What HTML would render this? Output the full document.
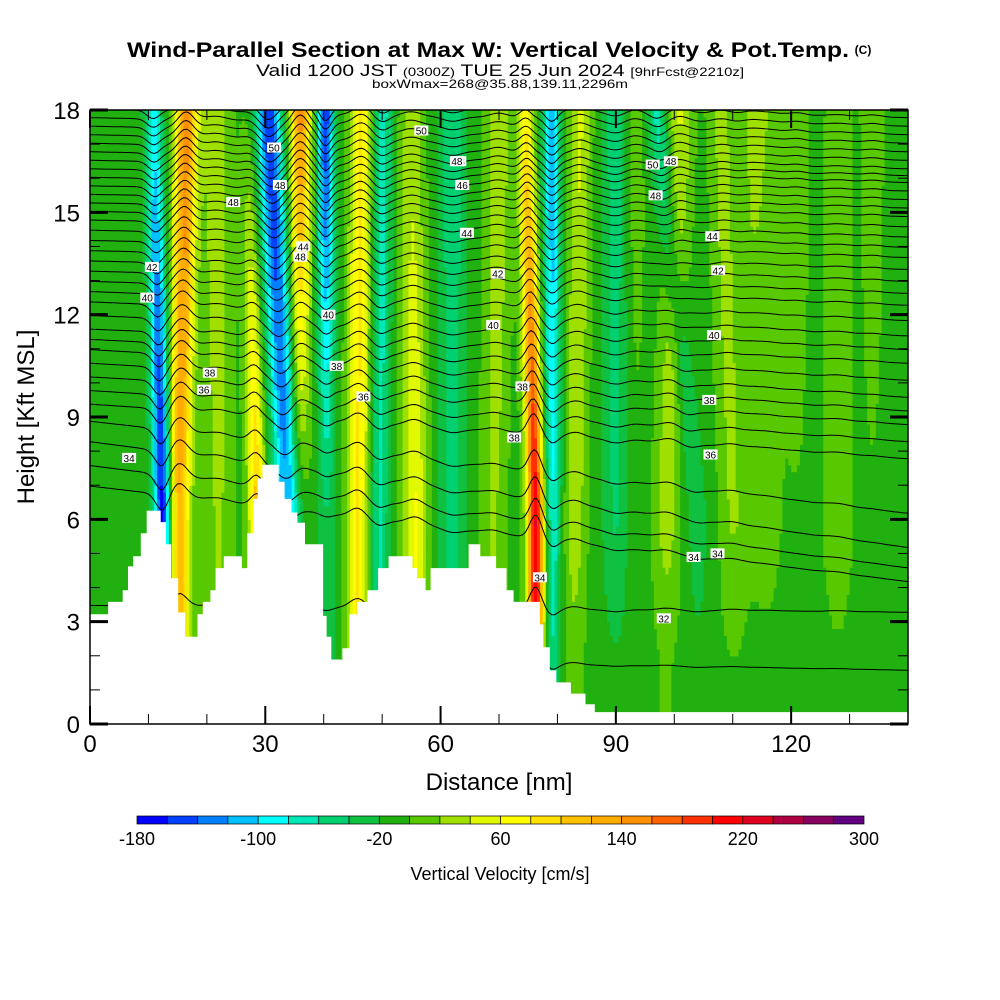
<!DOCTYPE html>
<html><head><meta charset="utf-8"><style>
html,body{margin:0;padding:0;background:#fff;}
svg{display:block;font-family:"Liberation Sans",sans-serif;}
</style></head><body>
<svg id="chart" width="1000" height="1000" viewBox="0 0 1000 1000">
<rect width="1000" height="1000" fill="#fff"/>
<text x="488" y="57" text-anchor="middle" font-size="21" font-weight="bold" textLength="722" lengthAdjust="spacingAndGlyphs">Wind-Parallel Section at Max W: Vertical Velocity &amp; Pot.Temp.</text>
<text x="863" y="54" text-anchor="middle" font-size="12" font-weight="bold">(C)</text>
<text x="500" y="76" text-anchor="middle" font-size="17" textLength="488" lengthAdjust="spacingAndGlyphs">Valid 1200 JST <tspan font-size="12">(0300Z)</tspan> TUE 25 Jun 2024 <tspan font-size="12">[9hrFcst@2210z]</tspan></text>
<text x="500" y="88" text-anchor="middle" font-size="12" textLength="256" lengthAdjust="spacingAndGlyphs">boxWmax=268@35.88,139.11,2296m</text>
<defs><clipPath id="plotclip"><rect x="90" y="110" width="818" height="614"/></clipPath></defs>
<g id="field" clip-path="url(#plotclip)"></g>
<g id="contours" clip-path="url(#plotclip)"></g>
<g id="terrain" clip-path="url(#plotclip)"></g>
<g id="clabels"></g>
<g id="axes"></g>
<text x="499" y="790" text-anchor="middle" font-size="24">Distance [nm]</text>
<text transform="translate(34,417) rotate(-90)" text-anchor="middle" font-size="24">Height [Kft MSL]</text>
<g id="cbar"></g>
<text x="500" y="880" text-anchor="middle" font-size="18">Vertical Velocity [cm/s]</text>
</svg>
<script>
// ---- data ----
const binColors=["#0000ff","#0040ff","#0080ff","#00c0ff","#00ffff","#00e8b8","#00d070","#10c040","#20b010","#58c800","#a0e000","#e0f800","#ffff00","#ffe000","#ffc000","#ffac00","#ff9000","#ff6000","#ff3000","#ff0000","#e00020","#b00040","#880060","#600080"];
const binMin=-180, binStep=20;
const cbarLabels=[-180,-100,-20,60,140,220,300];
// bands: position (nm) at 6 kft and 18 kft, value (cm/s) at 6 and 18 kft, half-width (nm)
const bandX6=[12.5,15.2,22,28.6,34,36,40.5,45.8,49.5,55.7,62,69,76.3,79.2,83,90,98.7,104,110,116,128,93,113,121,134];
const bandX18=[10.8,16.5,21.5,27,30.5,36,40.3,46.5,50,55,62,70,74.5,79,84,90,101,97,108,116,128,93,113,121,134];
const bandV6=[-170,130,30,120,-110,10,-30,90,-55,70,-40,30,230,-70,40,-35,40,-25,30,15,20,5,5,5,5];
const bandV18=[-80,160,40,10,-150,160,-150,90,-65,40,-45,45,80,-110,50,-45,50,-60,35,25,15,25,25,25,20];
const bandW=[1.5,1.9,2.6,1.4,2.1,1.7,1.4,1.9,1.7,2.1,2.3,2.2,1.4,1.4,1.9,2.3,2.2,1.8,2.2,2.8,2.8,2,2,2,2];
const baseW=-8;
// terrain step profile
const terrX=[0,3.1,5.6,6.5,7.4,8.7,9.7,12.1,13,13.9,15.1,16.3,18.4,19.3,20.6,21.5,22.9,26,26.9,28,28.7,29.5,32.3,33.3,34.5,35.5,36.8,39.9,40.5,41.3,43.2,44.4,45.7,47.5,49.3,51.1,55.2,56,57.4,58.3,64.8,66.8,69.5,71.3,72.5,75.8,77,77.6,78.7,79.8,82.3,84.8,86.4];
const terrH=[3.22,3.58,3.92,4.62,4.92,5.59,6.25,5.92,5.27,4.27,3.27,2.56,3.22,3.58,3.92,4.57,4.92,4.57,5.59,6.6,7.2,7.6,7.1,6.6,6.2,5.9,5.27,3.17,2.56,1.89,2.22,3.22,3.58,3.92,4.57,4.92,4.57,4.27,3.92,4.57,5.27,4.92,4.57,3.92,3.58,3.58,2.92,2.25,1.57,1.22,0.89,0.58,0.35];
// isentropes
const thetaLevels=[32,33,34,34.5,35,35.5,36,36.5,37,37.5,38,38.5,39,39.5,40,40.5,41,41.5,42,42.5,43,43.5,44,44.5,45,45.5,46,46.5,47,47.5,48,48.5,49,49.5,50,50.5,51];
const thetaHL=[2,3.5,7.0,7.6,8.3,8.9,9.4,9.8,10.2,10.6,11.0,11.3,11.6,12.0,12.4,12.7,13.0,13.3,13.6,13.9,14.2,14.5,14.8,15.05,15.3,15.55,15.8,16.05,16.3,16.55,16.8,17.05,17.3,17.55,17.8,18.05,18.3];
const thetaHR=[1.6,3.3,4.2,4.6,5.2,6.2,7.8,8.3,8.8,9.2,9.6,10.1,10.6,11.0,11.4,11.85,12.3,12.65,13.0,13.35,13.7,14.0,14.3,14.6,14.9,15.15,15.4,15.65,15.9,16.1,16.3,16.55,16.8,17.05,17.3,17.55,17.8];
// contour labels
const labX=[6.7,9.8,10.6,24.5,20.5,19.5,31.5,32.5,36.5,36.0,40.8,42.2,46.8,56.7,63.2,63.7,64.5,62.8,69.8,69.0,74.0,72.6,77.0,96.3,96.8,99.4,106.5,107.5,106.8,106.0,106.2,103.3,107.4,98.2];
const labY=[7.8,12.5,13.4,15.3,10.3,9.8,16.9,15.8,14.0,13.7,12.0,10.5,9.6,17.4,16.5,15.8,14.4,16.5,13.2,11.7,9.9,8.4,4.3,16.4,15.5,16.5,14.3,13.3,11.4,9.5,7.9,4.9,5.0,3.1];
const labT=["34","40","42","48","38","36","50","48","44","48","40","38","36","50","48","46","44","48","42","40","38","38","34","50","48","48","44","42","40","38","36","34","34","32"];

// ---- scales ----
const X0=90,X1=908,Y0=724,Y1=110;
const xs=nm=>X0+nm*(X1-X0)/140;
const ys=k=>Y0-k*(Y0-Y1)/18;
const NS="http://www.w3.org/2000/svg";
function mk(tag,attrs,parent){const e=document.createElementNS(NS,tag);for(const k in attrs)e.setAttribute(k,attrs[k]);parent.appendChild(e);return e;}
function wAt(x,h){
  let v=baseW;const f=Math.max(0,Math.min(1,(h-6)/12));
  let fade=1;
  if(h<6){const fx=Math.max(0,Math.min(1,(x-75)/12));const fh=Math.max(0.25,(h-0.5)/5.5);fade=1-fx*(1-fh);}
  const hh=Math.max(h,3);const ff=Math.max(0,Math.min(1,(hh-6)/12));
  for(let i=0;i<bandX6.length;i++){
    const c=bandX6[i]+(bandX18[i]-bandX6[i])*ff;
    const a=bandV6[i]+(bandV18[i]-bandV6[i])*f;
    const d=(x-c)/bandW[i];
    v+=a*Math.exp(-d*d)*fade;
  }
  return v;
}
function colorOf(v){let b=Math.floor((v-binMin)/binStep);b=Math.max(0,Math.min(binColors.length-1,b));return binColors[b];}

// ---- field ----
const field=document.getElementById('field');
const dx=0.5,dh=0.2;
for(let h=0;h<18;h+=dh){
  let runStart=0,runCol=null;
  for(let x=0;x<=140+1e-6;x+=dx){
    const col=x<140?colorOf(wAt(x+dx/2,h+dh/2)):null;
    if(col!==runCol){
      if(runCol!==null){
        const r=mk('rect',{x:xs(runStart).toFixed(2),y:ys(h+dh).toFixed(2),width:(xs(x)-xs(runStart)+0.6).toFixed(2),height:(ys(h)-ys(h+dh)+0.6).toFixed(2),fill:runCol},field);
        
        
      }
      runStart=x;runCol=col;
    }
  }
}
// ---- contours ----
const cg=document.getElementById('contours');
for(let i=0;i<thetaLevels.length;i++){
  let pts=[];
  for(let x=0;x<=140;x+=0.5){
    const b=thetaHL[i]+(thetaHR[i]-thetaHL[i])*x/140;
    const hh=b+wAt(x,b)*0.003;
    pts.push(xs(x).toFixed(1)+','+ys(hh).toFixed(1));
  }
  const p=mk('polyline',{points:pts.join(' '),fill:'none',stroke:'#000','stroke-width':1},cg);
  
  
}
// ---- terrain ----
const tg=document.getElementById('terrain');
let tp=[xs(0)+','+ys(-1)];
for(let i=0;i<terrX.length;i++){
  const x0=terrX[i],x1=i+1<terrX.length?terrX[i+1]:141;
  tp.push(xs(x0).toFixed(1)+','+ys(terrH[i]).toFixed(1));
  tp.push(xs(x1).toFixed(1)+','+ys(terrH[i]).toFixed(1));
}
tp.push(xs(141)+','+ys(-1));
const tpoly=mk('polygon',{points:tp.join(' '),fill:'#fff'},tg);


// ---- contour labels ----
const lg=document.getElementById('clabels');
for(let i=0;i<labX.length;i++){
  const g=mk('g',{transform:`translate(${xs(labX[i]).toFixed(1)},${ys(labY[i]).toFixed(1)})`},lg);
  
  
  mk('rect',{x:-7,y:-5,width:14,height:10,fill:'#fff'},g);
  const t=mk('text',{x:0,y:4,'text-anchor':'middle','font-size':10},g);
  t.textContent=labT[i];
}
// ---- axes ----
const ax=document.getElementById('axes');
const frame=mk('rect',{x:X0,y:Y1,width:X1-X0,height:Y0-Y1,fill:'none',stroke:'#000','stroke-width':1.5},ax);


for(let v=0;v<=140;v+=10){
  const major=v%30===0;const L=major?18:10;const x=xs(v);
  mk('line',{x1:x,y1:Y0,x2:x,y2:Y0-L,stroke:'#000','stroke-width':major?2:1},ax);
  mk('line',{x1:x,y1:Y1,x2:x,y2:Y1+L,stroke:'#000','stroke-width':major?2:1},ax);
  if(major){const t=mk('text',{x:x,y:752,'text-anchor':'middle','font-size':24},ax);t.textContent=v;
    }
}
for(let v=0;v<=18;v+=1){
  const major=v%3===0;const L=major?18:10;const y=ys(v);
  mk('line',{x1:X0,y1:y,x2:X0+L,y2:y,stroke:'#000','stroke-width':major?3:1},ax);
  mk('line',{x1:X1,y1:y,x2:X1-L,y2:y,stroke:'#000','stroke-width':major?3:1},ax);
  if(major){const t=mk('text',{x:80,y:y+9,'text-anchor':'end','font-size':24},ax);t.textContent=v;
    }
}
// ---- colorbar ----
const cb=document.getElementById('cbar');
const cbx0=137,cbx1=864,cby=816,cbh=8;const bw=(cbx1-cbx0)/binColors.length;
for(let i=0;i<binColors.length;i++){
  const r=mk('rect',{x:(cbx0+i*bw).toFixed(2),y:cby,width:bw.toFixed(2),height:cbh,fill:binColors[i],stroke:'#000','stroke-width':0.7},cb);
  
  
}
for(const v of cbarLabels){
  const x=cbx0+(v-binMin)/binStep*bw;
  const t=mk('text',{x:x,y:845,'text-anchor':'middle','font-size':18},cb);
  t.textContent=v;
  
  
}
</script>
</body></html>
